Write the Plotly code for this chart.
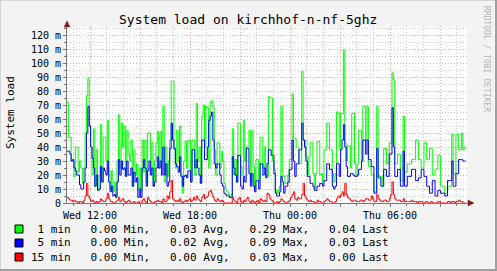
import plotly.graph_objects as go
import pandas as pd

# ---------------- data (values in milli-load, 5-minute steps) ----------------
START = "2024-01-03 10:37:12"   # a Wednesday
END = "2024-01-04 10:37:12"

load1 = [
    72, 47, 47, 30, 30, 19, 40, 40, 22, 30, 25, 14, 25, 50, 77, 89, 55, 40, 20, 53, 12, 38, 10, 20,
    56, 15, 47, 47, 30, 59, 23, 10, 23, 8, 15, 5, 30, 63, 25, 57, 40, 55, 20, 52, 35, 30, 45, 12,
    38, 20, 28, 10, 25, 8, 45, 22, 45, 15, 50, 50, 25, 43, 12, 30, 43, 51, 25, 51, 30, 69, 15, 40,
    19, 30, 45, 87, 87, 38, 25, 52, 30, 55, 20, 7, 30, 44, 25, 45, 45, 15, 45, 45, 20, 71, 30, 40,
    15, 62, 70, 40, 69, 68, 25, 72, 73, 68, 38, 20, 43, 43, 25, 37, 30, 14, 10, 8, 6, 4, 6, 53,
    20, 31, 15, 57, 57, 26, 20, 59, 30, 40, 40, 52, 15, 52, 26, 10, 31, 31, 15, 47, 47, 25, 40, 20,
    19, 76, 75, 75, 30, 24, 9, 7, 9, 12, 69, 20, 19, 14, 14, 20, 31, 31, 78, 46, 46, 40, 40, 28,
    28, 94, 45, 45, 33, 20, 33, 43, 43, 21, 10, 21, 44, 44, 20, 21, 15, 38, 38, 57, 57, 38, 38, 21,
    15, 21, 65, 65, 38, 64, 64, 109, 43, 30, 41, 41, 25, 64, 64, 28, 20, 28, 52, 52, 30, 69, 69, 45,
    69, 26, 26, 20, 20, 8, 8, 69, 19, 19, 19, 12, 39, 39, 28, 28, 43, 43, 93, 88, 28, 28, 35, 35,
    16, 16, 62, 22, 22, 28, 28, 28, 31, 31, 31, 45, 45, 31, 31, 25, 25, 43, 43, 31, 31, 39, 39, 20,
    20, 24, 24, 34, 34, 12, 12, 12, 7, 7, 12, 12, 12, 49, 21, 21, 49, 49, 38, 38, 50, 38, 40, 40,
]
load5 = [
    37, 37, 35, 30, 31, 25, 23, 20, 20, 13, 10, 10, 15, 25, 50, 69, 55, 40, 32, 25, 12, 20, 9, 10,
    26, 15, 25, 23, 20, 30, 15, 8, 12, 5, 6, 4, 15, 31, 20, 30, 24, 25, 19, 30, 20, 20, 25, 12,
    22, 15, 18, 4, 10, 4, 25, 31, 25, 12, 23, 30, 20, 25, 12, 15, 25, 33, 25, 30, 20, 40, 20, 28,
    12, 15, 39, 57, 45, 39, 28, 26, 22, 33, 19, 12, 19, 20, 18, 23, 23, 15, 38, 38, 25, 31, 25, 20,
    14, 45, 45, 31, 31, 40, 59, 62, 65, 45, 28, 25, 28, 28, 20, 14, 12, 7, 6, 5, 5, 4, 4, 33,
    25, 20, 15, 34, 34, 12, 10, 19, 15, 39, 39, 21, 12, 21, 12, 8, 16, 16, 10, 28, 28, 20, 25, 18,
    28, 38, 38, 34, 34, 21, 7, 5, 5, 8, 19, 15, 7, 12, 12, 15, 24, 24, 45, 30, 19, 28, 28, 38,
    38, 57, 45, 40, 30, 19, 19, 14, 14, 12, 9, 9, 12, 12, 14, 14, 12, 16, 16, 28, 28, 24, 24, 12,
    10, 12, 28, 28, 19, 38, 45, 56, 40, 26, 19, 19, 21, 21, 20, 19, 19, 20, 24, 24, 30, 45, 45, 35,
    45, 31, 31, 26, 26, 7, 7, 39, 18, 18, 12, 12, 24, 24, 19, 19, 35, 35, 68, 40, 19, 19, 24, 24,
    12, 12, 37, 12, 12, 19, 19, 19, 24, 24, 24, 16, 16, 18, 18, 24, 24, 19, 19, 12, 12, 7, 7, 16,
    16, 5, 5, 9, 9, 7, 7, 7, 5, 5, 16, 16, 16, 30, 12, 12, 21, 21, 31, 31, 31, 30, 30, 30,
]
load15 = [
    4, 3, 2, 2, 1, 2, 1, 1, 0, 1, 1, 0, 2, 5, 14, 5, 3, 1, 2, 1, 0, 1, 0, 1,
    3, 2, 1, 1, 3, 7, 3, 1, 1, 0, 0, 1, 2, 4, 1, 2, 3, 1, 0, 1, 2, 1, 0, 0,
    1, 0, 0, 1, 0, 0, 2, 3, 1, 0, 4, 2, 1, 0, 0, 1, 1, 2, 1, 1, 0, 3, 1, 1,
    5, 3, 8, 16, 3, 2, 1, 2, 1, 3, 1, 0, 1, 2, 1, 2, 3, 1, 2, 4, 2, 5, 3, 2,
    1, 4, 6, 3, 4, 5, 8, 9, 7, 4, 2, 1, 3, 2, 1, 2, 1, 0, 0, 0, 0, 0, 0, 4,
    2, 1, 0, 3, 4, 1, 0, 2, 1, 3, 4, 1, 0, 2, 1, 0, 1, 2, 0, 3, 2, 1, 2, 1,
    7, 6, 3, 2, 1, 0, 0, 1, 0, 1, 3, 2, 1, 0, 0, 1, 2, 4, 6, 8, 3, 2, 4, 3,
    3, 6, 14, 5, 3, 2, 1, 2, 1, 1, 0, 0, 2, 1, 1, 0, 0, 1, 2, 3, 2, 1, 1, 0,
    0, 1, 3, 5, 4, 6, 8, 5, 14, 6, 4, 3, 2, 1, 2, 2, 1, 1, 1, 2, 2, 1, 2, 3,
    3, 2, 2, 5, 3, 1, 1, 6, 3, 2, 1, 1, 2, 2, 1, 1, 3, 6, 15, 6, 3, 2, 2, 2,
    1, 1, 3, 1, 1, 1, 1, 1, 2, 1, 1, 1, 0, 1, 1, 1, 0, 0, 1, 1, 0, 0, 1, 0,
    0, 0, 0, 1, 1, 0, 0, 0, 0, 0, 1, 1, 0, 1, 1, 0, 1, 1, 2, 1, 1, 0, 0, 0,
]

series_names = ["1 min", "5 min", "15 min"]
series_colors = ["#00ff00", "#0000ff", "#ff0000"]
legend_stats = [
    ("0.00", "0.03", "0.29", "0.04"),
    ("0.00", "0.02", "0.09", "0.03"),
    ("0.00", "0.00", "0.03", "0.00"),
]

x_tickvals = ["2024-01-03 12:00", "2024-01-03 15:00", "2024-01-03 18:00", "2024-01-03 21:00",
              "2024-01-04 00:00", "2024-01-04 03:00", "2024-01-04 06:00", "2024-01-04 09:00"]
x_ticktext = ["Wed 12:00", "", "Wed 18:00", "", "Thu 00:00", "", "Thu 06:00", ""]
y_tickvals = [0, 10, 20, 30, 40, 50, 60, 70, 80, 90, 100, 110, 120]
y_ticktext = ["0"] + [f"{v} m" for v in y_tickvals[1:]]

TITLE = "System load on kirchhof-n-nf-5ghz"
YTITLE = "System load"
CREDIT = "RRDTOOL / TOBI OETIKER"

# ---------------- geometry helpers (pixel -> paper) ----------------
W, H = 497, 271
L, R, T, B = 67, 467, 26, 203


def px(x):
    return (x - L) / (R - L)


def py(y):
    return (B - y) / (B - T)


MONO = "DejaVu Sans Mono"
GRID_MAJ = "#e9a9a9"
GRID_MIN = "#cccccc"
DOT = "1px,2px"
AXIS = "#777777"
ARROW = "#7f1f1f"

fig = go.Figure()
start = pd.Timestamp(START)
for vals, name, col in zip([load1, load5, load15], series_names, series_colors):
    t = [start + pd.Timedelta(minutes=5 * i) for i in range(len(vals))]
    fig.add_trace(go.Scatter(x=t, y=vals, mode="lines", name=name,
                             line=dict(color=col, width=1, shape="hv"),
                             hoverinfo="skip", showlegend=False))

fig.update_layout(
    width=W, height=H, autosize=False,
    margin=dict(l=L, r=W - R, t=T, b=H - B, pad=0),
    paper_bgcolor="#f3f3f3", plot_bgcolor="#ffffff",
    font=dict(family=MONO, size=10, color="#000000"),
    showlegend=False,
)
fig.update_xaxes(
    type="date", range=[START, END],
    tickvals=x_tickvals, ticktext=x_ticktext,
    showgrid=True, gridcolor=GRID_MAJ, griddash=DOT, gridwidth=1,
    minor=dict(dtick=3600000, tick0="2024-01-03 00:00", showgrid=True,
               gridcolor=GRID_MIN, griddash=DOT, ticks="outside", ticklen=2,
               tickcolor=AXIS),
    ticks="outside", ticklen=3, tickcolor=AXIS,
    showline=True, linecolor=AXIS, linewidth=1, zeroline=False,
    tickfont=dict(family=MONO, size=10, color="#000000"),
)
fig.update_yaxes(
    range=[0, (B - T) / 1.4],
    tickvals=y_tickvals, ticktext=y_ticktext,
    showgrid=True, gridcolor=GRID_MAJ, griddash=DOT, gridwidth=1,
    minor=dict(dtick=5, tick0=0, showgrid=True, gridcolor=GRID_MIN,
               griddash=DOT, ticks="outside", ticklen=2, tickcolor=AXIS),
    ticks="outside", ticklen=3, tickcolor=AXIS,
    showline=True, linecolor=AXIS, linewidth=1, zeroline=False,
    tickfont=dict(family=MONO, size=10, color="#000000"),
)

shapes = []
# outer 3D frame
shapes.append(dict(type="rect", xref="paper", yref="paper", x0=px(0), x1=px(W), y0=py(0), y1=py(1),
                   fillcolor="#d4d4d4", line=dict(width=0), layer="above"))
shapes.append(dict(type="rect", xref="paper", yref="paper", x0=px(0), x1=px(1), y0=py(0), y1=py(H),
                   fillcolor="#d4d4d4", line=dict(width=0), layer="above"))
shapes.append(dict(type="rect", xref="paper", yref="paper", x0=px(W - 2), x1=px(W), y0=py(0), y1=py(H),
                   fillcolor="#a0a0a0", line=dict(width=0), layer="above"))
shapes.append(dict(type="rect", xref="paper", yref="paper", x0=px(0), x1=px(W), y0=py(H - 2), y1=py(H),
                   fillcolor="#a0a0a0", line=dict(width=0), layer="above"))
# axis extension + arrows
shapes.append(dict(type="line", xref="paper", yref="paper", x0=px(R), x1=px(470), y0=0, y1=0,
                   line=dict(color=AXIS, width=1), layer="above"))
shapes.append(dict(type="path", xref="paper", yref="paper",
                   path=f"M {px(L-3)} {py(27)} L {px(L+3)} {py(27)} L {px(L)} {py(21)} Z",
                   fillcolor=ARROW, line=dict(color=ARROW, width=0.5), layer="above"))
shapes.append(dict(type="path", xref="paper", yref="paper",
                   path=f"M {px(468)} {py(B-3)} L {px(468)} {py(B+3)} L {px(474)} {py(B)} Z",
                   fillcolor=ARROW, line=dict(color=ARROW, width=0.5), layer="above"))

annotations = [
    dict(text=TITLE, x=px(248), y=py(19), xref="paper", yref="paper", showarrow=False,
         xanchor="center", yanchor="middle", font=dict(family=MONO, size=13, color="#000")),
    dict(text=YTITLE, x=px(10), y=py(113), xref="paper", yref="paper", showarrow=False,
         textangle=-90, xanchor="center", yanchor="middle",
         font=dict(family=MONO, size=11, color="#000")),
    dict(text=CREDIT, x=px(487), y=py(4), xref="paper", yref="paper", showarrow=False,
         textangle=90, xanchor="center", yanchor="top",
         font=dict(family=MONO, size=8, color="#b4b4b4")),
]

row_y = [229, 243, 257]
for name, col, st, yy in zip(series_names, series_colors, legend_stats, row_y):
    shapes.append(dict(type="rect", xref="paper", yref="paper",
                       x0=px(15), x1=px(23), y0=py(yy - 4), y1=py(yy + 4),
                       fillcolor=col, line=dict(color="#000000", width=1), layer="above"))
    txt = f"{name:>6}   {st[0]} Min,   {st[1]} Avg,   {st[2]} Max,   {st[3]} Last"
    annotations.append(dict(text=txt.replace(" ", "\u00a0"), x=px(29), y=py(yy),
                            xref="paper", yref="paper", showarrow=False,
                            xanchor="left", yanchor="middle",
                            font=dict(family=MONO, size=11, color="#000")))

fig.update_layout(shapes=shapes, annotations=annotations)
fig.write_html("out.html")
